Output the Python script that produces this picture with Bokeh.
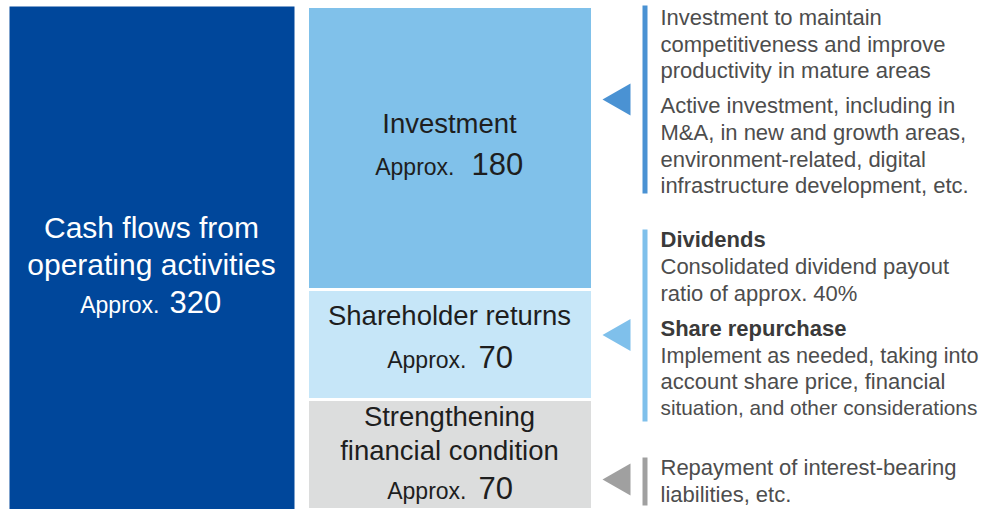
from bokeh.plotting import figure
from bokeh.models import Range1d
from bokeh.core.properties import value
from bokeh.embed import file_html
from bokeh.resources import INLINE

# ---------------- data ----------------
source_label = ["Cash flows from", "operating activities"]
source_value = 320

alloc_labels = [["Investment"], ["Shareholder returns"], ["Strengthening", "financial condition"]]
alloc_values = [180, 70, 70]  # top to bottom

notes_investment = ["Investment to maintain", "competitiveness and improve", "productivity in mature areas",
                    "Active investment, including in", "M&A, in new and growth areas,",
                    "environment-related, digital", "infrastructure development, etc."]
notes_returns_heads = ["Dividends", "Share repurchase"]
notes_returns = ["Consolidated dividend payout", "ratio of approx. 40%",
                 "Implement as needed, taking into", "account share price, financial",
                 "situation, and other considerations"]
notes_financial = ["Repayment of interest-bearing", "liabilities, etc."]

# ---------------- styles ----------------
FONT = value("Liberation Sans")
C_DARK = "#00479b"
C_SEG = ["#80c1ea", "#c6e6f8", "#dcdddd"]
C_MARK = ["#4a92d3", "#7fc0eb", "#a0a0a0"]
C_NOTE = "#4d4d4d"
C_BOX_TXT = "#1e1e1e"

W, H = 986, 509
BAR_TOP_PX = 6
# value axis: 0 at the bottom edge, the total at BAR_TOP_PX
y_end = source_value * H / (H - BAR_TOP_PX)
p = figure(width=W, height=H, output_backend="svg", toolbar_location=None,
           x_range=Range1d(0, W), y_range=Range1d(0, y_end),
           min_border=0, outline_line_color=None,
           x_axis_location=None, y_axis_location=None)
p.xgrid.visible = False
p.ygrid.visible = False
p.background_fill_color = "white"
p.border_fill_color = "white"
# pixel-like helper range for annotation placement
p.extra_y_ranges = {"px": Range1d(start=H, end=0)}

# left big bar
p.quad(left=[9], right=[294], bottom=[0], top=[source_value], fill_color=C_DARK, line_color=None)

# stacked allocation bars (top to bottom)
tops, bottoms = [], []
acc = sum(alloc_values)
for v in alloc_values:
    tops.append(acc)
    bottoms.append(acc - v)
    acc -= v
p.quad(left=[307] * 3, right=[592] * 3, bottom=bottoms, top=tops,
       fill_color=C_SEG, line_color="white", line_width=3)

def txt(x, y, s, size, color, align="center", style="normal"):
    p.text(x=[x], y=[y], text=[s], y_range_name="px", text_font=FONT,
           text_font_size=size, text_color=color, text_align=align,
           text_baseline="middle", text_font_style=style)

# left bar labels
txt(151, 226.5, source_label[0], "30px", "white")
txt(151, 263.5, source_label[1], "30px", "white")
txt(159, 304, "Approx.", "23px", "white", align="right")
txt(169, 301.5, str(source_value), "31px", "white", align="left")

# allocation labels
txt(449, 122.5, alloc_labels[0][0], "27.5px", C_BOX_TXT)
txt(454, 166, "Approx.", "23px", C_BOX_TXT, align="right")
txt(471, 163.5, str(alloc_values[0]), "31px", C_BOX_TXT, align="left")

txt(449, 314.5, alloc_labels[1][0], "27.5px", C_BOX_TXT)
txt(466, 359, "Approx.", "23px", C_BOX_TXT, align="right")
txt(478, 356.5, str(alloc_values[1]), "31px", C_BOX_TXT, align="left")

txt(449, 415.5, alloc_labels[2][0], "27.5px", C_BOX_TXT)
txt(449, 449.5, alloc_labels[2][1], "27.5px", C_BOX_TXT)
txt(466, 490, "Approx.", "23px", C_BOX_TXT, align="right")
txt(478, 487.5, str(alloc_values[2]), "31px", C_BOX_TXT, align="left")

# markers: triangles and vertical rules
tri_cy = [99, 334.5, 479]
rule_y = [(5, 193), (229, 421), (457, 505)]
for cy, (y0, y1), c in zip(tri_cy, rule_y, C_MARK):
    p.patch(x=[602, 630, 630], y=[cy, cy - 16, cy + 16], y_range_name="px",
            fill_color=c, line_color=None)
    p.quad(left=[642], right=[647], top=[y0], bottom=[y1], y_range_name="px",
           fill_color=c, line_color=None)

NX = 660
NS = "22px"
for s, y in zip(notes_investment, [17.3, 44, 70.3, 105.3, 132.3, 159, 185]):
    txt(NX, y, s, NS, C_NOTE, align="left")

txt(NX, 239, notes_returns_heads[0], NS, "#3a3a3a", align="left", style="bold")
txt(NX, 328, notes_returns_heads[1], NS, "#3a3a3a", align="left", style="bold")
ret_sizes = [NS, NS, "21.6px", NS, "20.8px"]
for s, y, fs in zip(notes_returns, [266.3, 293.3, 355, 380.6, 407.3], ret_sizes):
    txt(NX, y, s, fs, C_NOTE, align="left")

for s, y in zip(notes_financial, [467.3, 494]):
    txt(NX, y, s, NS, C_NOTE, align="left")

open("out.html", "w").write(file_html(p, INLINE))
